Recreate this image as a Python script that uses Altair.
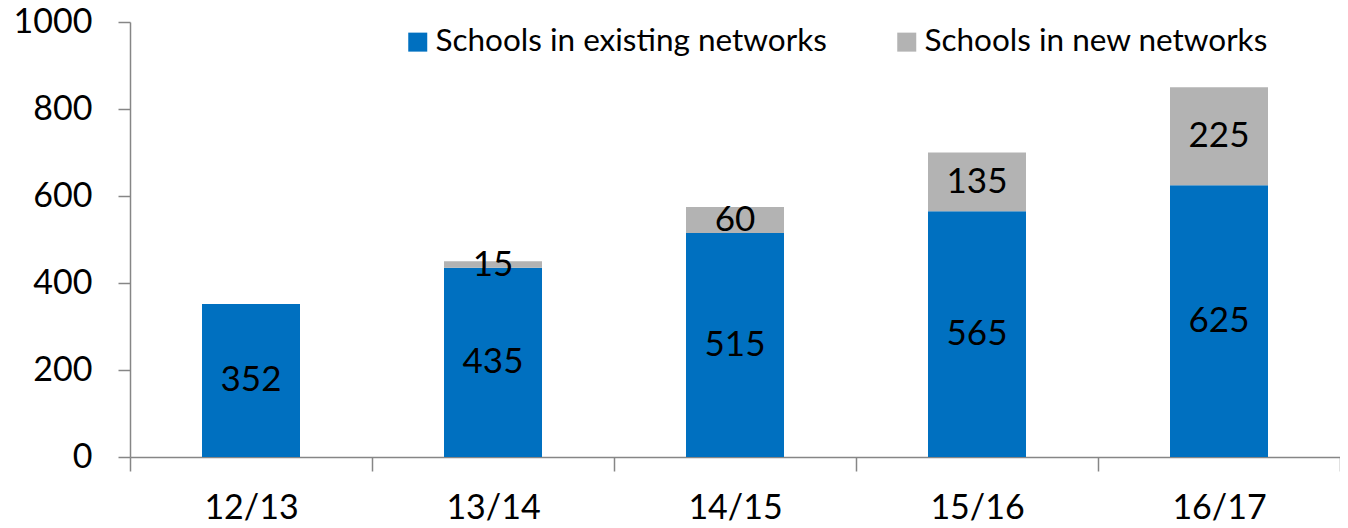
import altair as alt
import pandas as pd

years = ["12/13", "13/14", "14/15", "15/16", "16/17"]
existing = [352, 435, 515, 565, 625]
new = [0, 15, 60, 135, 225]
series = ["Schools in existing networks", "Schools in new networks"]
colors = ["#0070C0", "#B3B3B3"]
y_ticks = [0, 200, 400, 600, 800, 1000]

rows = []
for i, yr in enumerate(years):
    rows.append({"year": yr, "series": series[0], "value": existing[i], "ord": 0})
    rows.append({"year": yr, "series": series[1], "value": new[i], "ord": 1})
df = pd.DataFrame(rows)

FONT = "Lato"
AX = "#868686"

base = (
    alt.Chart(df)
    .transform_filter("datum.value > 0")
    .transform_stack(stack="value", groupby=["year"], as_=["v0", "v1"],
                     sort=[alt.SortField("ord", order="ascending")])
    .transform_calculate(mid="(datum.v0 + datum.v1) / 2")
)

xenc = alt.X("year:N", sort=years,
             scale=alt.Scale(paddingInner=0, paddingOuter=0),
             axis=alt.Axis(title=None, labelAngle=0, tickBand="extent",
                           domainColor=AX, tickColor=AX, domainWidth=1.5, tickWidth=1.5,
                           tickSize=14, labelPadding=20, labelFont=FONT,
                           labelFontSize=34, labelColor="black", grid=False))

bars = base.mark_bar(size=98).encode(
    x=xenc,
    y=alt.Y("v0:Q", scale=alt.Scale(domain=[0, 1000], nice=False),
            axis=alt.Axis(title=None, values=y_ticks, format="d",
                          domainColor=AX, tickColor=AX,
                          domainWidth=1.5, tickWidth=1.5, tickSize=12,
                          labelPadding=26, labelFont=FONT, labelFontSize=34,
                          labelColor="black", grid=False)),
    y2="v1:Q",
    color=alt.Color("series:N", scale=alt.Scale(domain=series, range=colors),
                    legend=alt.Legend(title=None, orient="none", direction="horizontal",
                                      legendX=272, legendY=4, symbolType="square",
                                      symbolSize=361, symbolStrokeWidth=0,
                                      labelFont=FONT, labelFontSize=31.5,
                                      labelColor="black", labelOffset=2,
                                      columnPadding=64, labelLimit=600)),
)

text = base.mark_text(font=FONT, fontSize=35, color="black").encode(
    x=alt.X("year:N", sort=years),
    y=alt.Y("mid:Q"),
    text=alt.Text("value:Q"),
)

chart = (
    alt.layer(bars, text)
    .properties(width=1210, height=435,
                autosize=alt.AutoSizeParams(type="none"),
                padding={"left": 122, "top": 14, "right": 0, "bottom": 71})
    .configure_view(stroke=None)
)

chart.save("out.html", embed_options={"renderer": "svg", "actions": False})
